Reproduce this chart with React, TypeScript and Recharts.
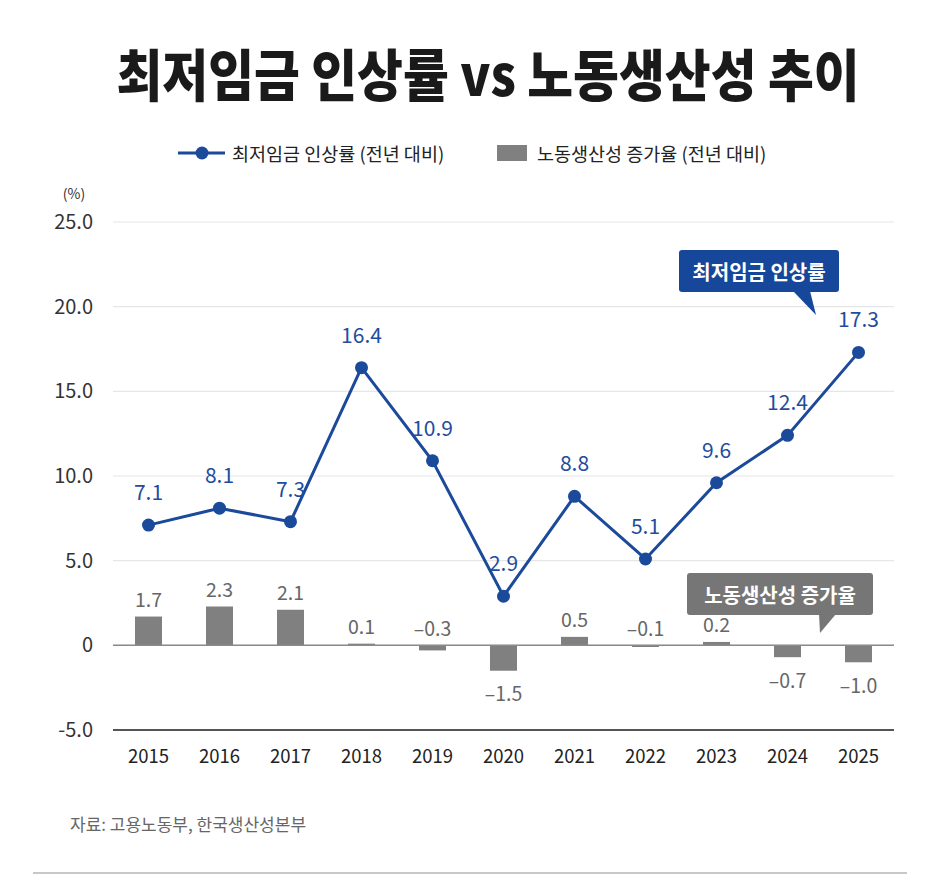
import { ComposedChart, Bar, Line, XAxis, YAxis, CartesianGrid, ReferenceLine, LabelList } from 'recharts';

const FONT = "'Noto Sans CJK KR', 'Noto Sans', sans-serif";

const years = ['2015', '2016', '2017', '2018', '2019', '2020', '2021', '2022', '2023', '2024', '2025'];
const minWageGrowth = [7.1, 8.1, 7.3, 16.4, 10.9, 2.9, 8.8, 5.1, 9.6, 12.4, 17.3];
const productivityGrowth = [1.7, 2.3, 2.1, 0.1, -0.3, -1.5, 0.5, -0.1, 0.2, -0.7, -1.0];
const yTicks = [-5, 0, 5, 10, 15, 20, 25];

const BLUE = '#1b4a9b';
const BAR_GRAY = '#808080';

const data = years.map((year, i) => ({
  year,
  wage: minWageGrowth[i],
  productivity: productivityGrowth[i],
}));

const fmtTick = (v: number) => (v === 0 ? '0' : v.toFixed(1));
const fmtValue = (v: number) => v.toFixed(1).replace('-', '–');

function LineValueLabel(props: any) {
  const { x, y, value } = props;
  return (
    <text x={x} y={y - 34} textAnchor="middle" dominantBaseline="central" fill="#1f4d9e" fontSize={21} fontFamily={FONT}>
      {fmtValue(value)}
    </text>
  );
}

function BarValueLabel(props: any) {
  const { x, y, width, height, value } = props;
  const top = Math.min(y, y + height);
  const bottom = Math.max(y, y + height);
  // small negatives keep their label above the zero line
  const below = value <= -0.5;
  const cy = below ? bottom + 22 : top - 18;
  return (
    <text x={x + width / 2} y={cy} textAnchor="middle" dominantBaseline="central" fill="#666" fontSize={19.5} fontFamily={FONT}>
      {fmtValue(value)}
    </text>
  );
}

export default function App() {
  return (
    <div style={{ position: 'absolute', left: 0, top: 0, width: 936, height: 877, background: '#fff', fontFamily: FONT }}>
      <ComposedChart
        width={936}
        height={877}
        data={data}
        margin={{ top: 222, right: 42, bottom: 117, left: 53 }}
        barSize={27}
      >
        <CartesianGrid vertical={false} stroke="#e6e6e6" strokeWidth={1.2} />
        <XAxis
          dataKey="year"
          height={30}
          tickLine={false}
          tickMargin={14}
          axisLine={{ stroke: '#555', strokeWidth: 2 }}
          tick={{ fill: '#222', fontSize: 18.5, fontFamily: FONT }}
        />
        <YAxis
          domain={[-5, 25]}
          ticks={yTicks}
          width={60}
          axisLine={false}
          tickLine={false}
          tickMargin={14}
          tickFormatter={fmtTick}
          tick={{ fill: '#333', fontSize: 20, fontFamily: FONT }}
        />
        <ReferenceLine y={0} stroke="#8a8a8a" strokeWidth={1.5} />
        <Bar dataKey="productivity" fill={BAR_GRAY} isAnimationActive={false}>
          <LabelList dataKey="productivity" content={BarValueLabel} />
        </Bar>
        <Line
          dataKey="wage"
          type="linear"
          stroke={BLUE}
          strokeWidth={3}
          dot={{ r: 6.5, fill: BLUE, stroke: 'none' }}
          activeDot={false}
          isAnimationActive={false}
        >
          <LabelList dataKey="wage" content={LineValueLabel} />
        </Line>
      </ComposedChart>

      <svg width={936} height={877} style={{ position: 'absolute', left: 0, top: 0, pointerEvents: 'none' }} fontFamily={FONT}>
        {/* title */}
        <text
          x={0}
          y={0}
          transform="translate(488 72) scale(0.89 1)"
          textAnchor="middle"
          dominantBaseline="central"
          fontSize={56}
          fontWeight={900}
          fill="#1a1a1a"
        >
          최저임금 인상률 vs 노동생산성 추이
        </text>

        {/* legend */}
        <line x1={178} y1={153} x2={225} y2={153} stroke={BLUE} strokeWidth={3} />
        <circle cx={202} cy={153} r={6.5} fill={BLUE} />
        <text x={232} y={153} dominantBaseline="central" fontSize={18.5} fill="#222">
          최저임금 인상률 (전년 대비)
        </text>
        <rect x={497} y={145} width={30} height={16} fill={BAR_GRAY} />
        <text x={537} y={153} dominantBaseline="central" fontSize={18.5} fill="#222">
          노동생산성 증가율 (전년 대비)
        </text>

        {/* unit */}
        <text x={74} y={193} textAnchor="middle" dominantBaseline="central" fontSize={14} fill="#333">
          (%)
        </text>

        {/* callout: minimum wage */}
        <rect x={679} y={250} width={160} height={42} rx={3} fill="#17479a" />
        <polygon points="793,291 810,291 816,315" fill="#17479a" />
        <text x={759} y={271} textAnchor="middle" dominantBaseline="central" fontSize={20} fontWeight={700} fill="#fff">
          최저임금 인상률
        </text>

        {/* callout: productivity */}
        <rect x={687} y={573} width={186} height={42} rx={3} fill="#767676" />
        <polygon points="819,614 836,614 820,633" fill="#767676" />
        <text x={780} y={594} textAnchor="middle" dominantBaseline="central" fontSize={20} fontWeight={700} fill="#fff">
          노동생산성 증가율
        </text>

        {/* source */}
        <text x={70} y={823} dominantBaseline="central" fontSize={17} fill="#666">
          자료: 고용노동부, 한국생산성본부
        </text>
        <line x1={33} y1={873} x2={907} y2={873} stroke="#c8c8c8" strokeWidth={2} />
      </svg>
    </div>
  );
}
